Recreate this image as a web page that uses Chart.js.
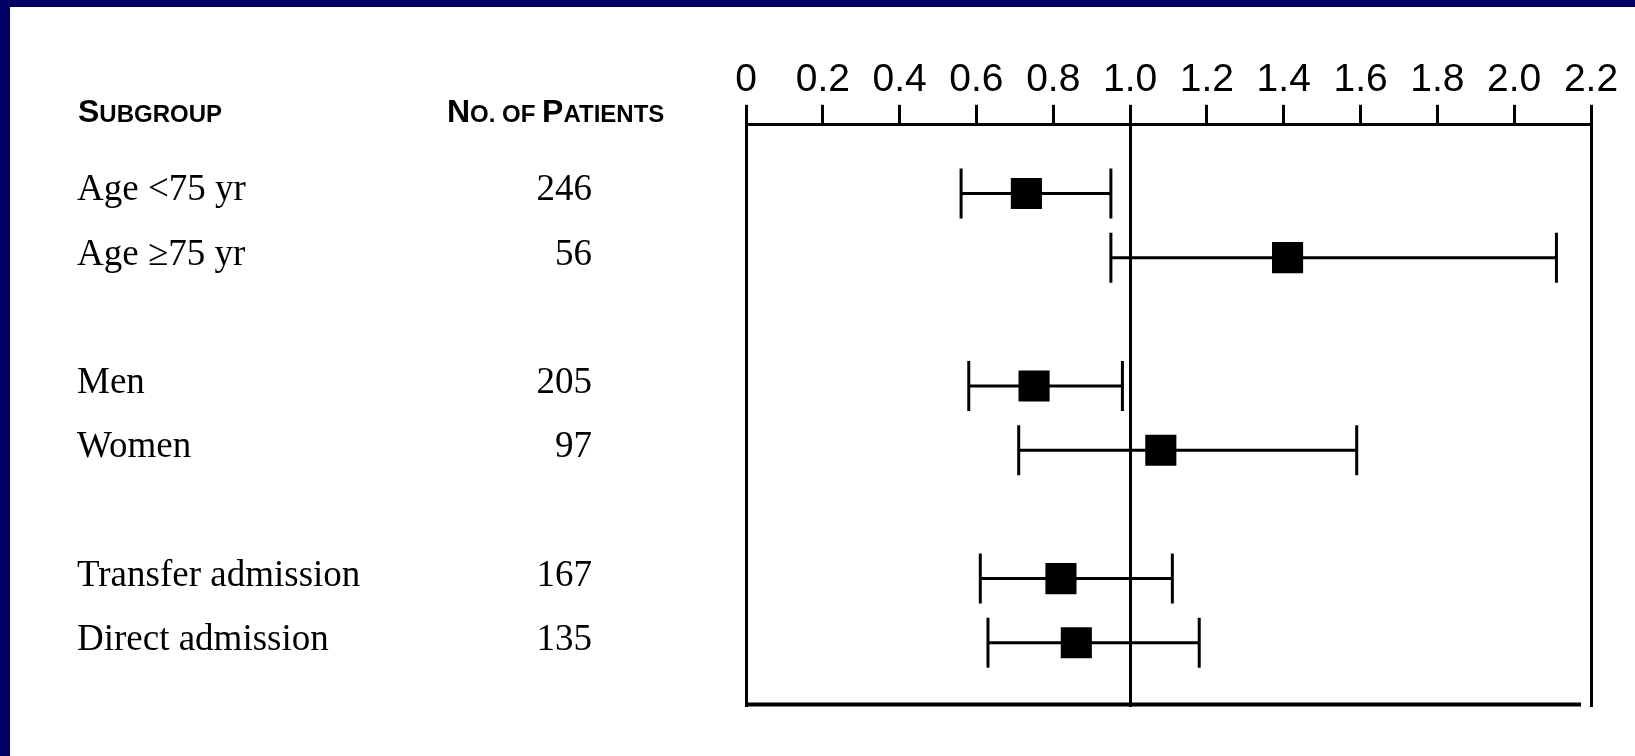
<!DOCTYPE html>
<html>
<head>
<meta charset="utf-8">
<script src="https://cdn.jsdelivr.net/npm/chart.js@4.4.1/dist/chart.umd.min.js"></script>
<style>
  html, body { margin: 0; padding: 0; background: #000066; overflow: hidden; }
  #wrap { position: absolute; left: 10px; top: 7px; width: 1625px; height: 749px; background: #fff; }
</style>
</head>
<body>
<div id="wrap"><canvas id="forest"></canvas></div>
<script>
// linhas do gráfico (as vazias são os espaços entre grupos)
const subgroups = ['Age <75 yr', 'Age \u226575 yr', '', 'Men', 'Women', '', 'Transfer admission', 'Direct admission'];
const patients = [246, 56, null, 205, 97, null, 167, 135];
const hazardRatio = [0.73, 1.41, null, 0.75, 1.08, null, 0.82, 0.86];
const ciLow = [0.56, 0.95, null, 0.58, 0.71, null, 0.61, 0.63];
const ciHigh = [0.95, 2.11, null, 0.98, 1.59, null, 1.11, 1.18];

const xMin = 0, xMax = 2.2, xStep = 0.2;

const points = [];
hazardRatio.forEach(function(v, i) {
  if (v !== null) points.push({ x: v, y: i });
});

const isAt = (v, t) => Math.abs(v - t) < 1e-6;

// barras de erro (intervalo de confiança)
const errorBars = {
  id: 'errorBars',
  beforeDatasetsDraw(chart) {
    const ctx = chart.ctx;
    const xs = chart.scales.x, ys = chart.scales.y;
    ctx.save();
    ctx.strokeStyle = '#000';
    ctx.lineWidth = 3;
    ctx.lineCap = 'butt';
    for (let i = 0; i < subgroups.length; i++) {
      if (ciLow[i] === null) continue;
      const y = ys.getPixelForValue(i);
      const x1 = xs.getPixelForValue(ciLow[i]);
      const x2 = xs.getPixelForValue(ciHigh[i]);
      ctx.beginPath();
      ctx.moveTo(x1, y); ctx.lineTo(x2, y);
      ctx.moveTo(x1, y - 25); ctx.lineTo(x1, y + 25);
      ctx.moveTo(x2, y - 25); ctx.lineTo(x2, y + 25);
      ctx.stroke();
    }
    // linha grossa de baixo
    const area = chart.chartArea;
    ctx.lineWidth = 4;
    ctx.beginPath();
    ctx.moveTo(area.left, area.bottom - 2.5);
    ctx.lineTo(area.right - 10, area.bottom - 2.5);
    ctx.stroke();
    ctx.restore();
  }
};

function smallCaps(ctx, parts, x, y) {
  parts.forEach(function(p) {
    ctx.font = 'bold ' + p[1] + 'px "Liberation Sans", Arial, sans-serif';
    ctx.fillText(p[0], x, y);
    x += ctx.measureText(p[0]).width;
  });
}

// textos da esquerda (subgrupo e nº de pacientes)
const leftTable = {
  id: 'leftTable',
  afterDraw(chart) {
    const ctx = chart.ctx;
    const ys = chart.scales.y;
    ctx.save();
    ctx.fillStyle = '#000';
    ctx.textBaseline = 'alphabetic';
    ctx.textAlign = 'left';
    smallCaps(ctx, [['S', 32], ['UBGROUP', 24]], 68, 115);
    smallCaps(ctx, [['N', 32], ['O. OF ', 24], ['P', 32], ['ATIENTS', 24]], 437, 115);

    ctx.font = '37px "Liberation Serif", "Times New Roman", serif';
    for (let i = 0; i < subgroups.length; i++) {
      if (!subgroups[i]) continue;
      const y = ys.getPixelForValue(i) + 7;
      ctx.textAlign = 'left';
      ctx.fillText(subgroups[i], 67, y);
      ctx.textAlign = 'right';
      ctx.fillText(String(patients[i]), 582, y);
    }
    ctx.restore();
  }
};

const ctx = document.getElementById('forest').getContext('2d');

const chart = new Chart(ctx, {
  type: 'scatter',
  data: {
    datasets: [{
      data: points,
      pointStyle: 'rect',
      pointRadius: 22,
      pointHoverRadius: 22,
      backgroundColor: '#000',
      borderColor: '#000',
      borderWidth: 0
    }]
  },
  options: {
    responsive: true,
    maintainAspectRatio: false,
    animation: false,
    layout: {
      padding: { left: 736, right: 44, top: 49, bottom: 49 }
    },
    plugins: {
      legend: { display: false },
      tooltip: { enabled: false }
    },
    scales: {
      x: {
        type: 'linear',
        position: 'top',
        min: xMin,
        max: xMax,
        ticks: {
          stepSize: xStep,
          padding: 1,
          color: '#000',
          font: { size: 39, family: '"Liberation Sans", Arial, sans-serif' },
          callback: v => (v === 0 ? '0' : v.toFixed(1))
        },
        grid: {
          drawOnChartArea: true,
          color: c => (isAt(c.tick.value, 0) || isAt(c.tick.value, 1) || isAt(c.tick.value, 2.2)) ? '#000' : 'rgba(0,0,0,0)',
          lineWidth: 3,
          tickLength: 20,
          tickWidth: 3,
          tickColor: '#000'
        },
        border: { display: true, color: '#000', width: 3 }
      },
      y: {
        type: 'linear',
        reverse: true,
        min: -1.07,
        max: 8,
        display: false
      }
    }
  },
  plugins: [errorBars, leftTable]
});
</script>
</body>
</html>
